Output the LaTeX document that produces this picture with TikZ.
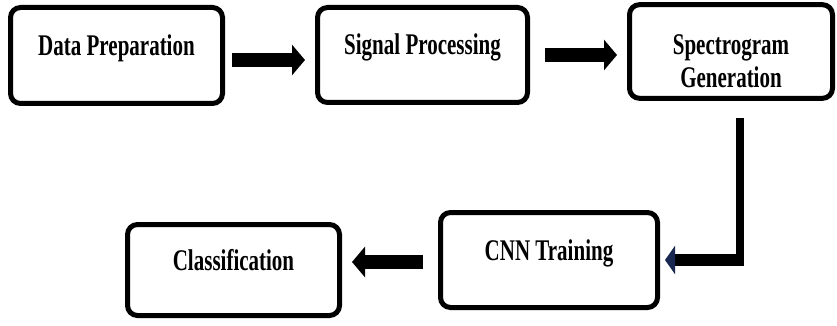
\documentclass[tikz,border=0pt]{standalone}
\usepackage{fontspec}
\newfontfamily\boxfont{Liberation Serif}[FakeStretch=0.7]
\usepackage{tikz}
\usetikzlibrary{positioning, arrows.meta, calc}
\definecolor{tipnavy}{RGB}{25,40,80}
\tikzset{
  stage/.style={draw, line width=5pt, rounded corners=10pt, align=center,
    font=\boxfont\bfseries\fontsize{30}{33}\selectfont,
    text height=22pt, text depth=22pt},
  flow/.style={line width=14pt, -{Triangle[width=30pt, length=13pt]}},
}

\begin{document}
\begin{tikzpicture}[x=1pt, y=-1pt]
    \useasboundingbox (0,0) rectangle (837,326);

    % === PREMIERE LIGNE ===
    \node[stage, minimum width=212pt, minimum height=96pt] (prep) at (116.5,55.5) {Data Preparation};
    \node[stage, minimum width=210pt, minimum height=95pt] (sig) at (422.5,55) {Signal Processing};
    \node[stage, minimum width=203pt, minimum height=92pt, text height=80pt, text depth=7pt] (spec) at (731,51.5) {Spectrogram\\Generation};

    % === DEUXIEME LIGNE ===
    \node[stage, minimum width=217pt, minimum height=95pt] (cnn) at (549,260) {CNN Training};
    \node[stage, minimum width=212pt, minimum height=91pt] (cls) at (233.5,270) {Classification};

    % Flèches du haut
    \path ([yshift=-4.5pt]prep.east) coordinate (out1);
    \draw[flow, shorten <=7pt, shorten >=10pt] (out1) -- (out1 -| sig.west);
    \draw[flow, shorten <=15pt, shorten >=10pt] (sig.east) -- (sig.east -| spec.west);

    % Descente vers CNN
    \path ([xshift=9pt]spec.south) coordinate (drop);
    \coordinate (turn) at (drop |- cnn.east);
    \draw[line width=8pt, shorten <=17pt] (drop) -- ([yshift=-6pt]turn);
    \draw[line width=12pt, -{Triangle[width=28pt, length=10pt, color=tipnavy]}, shorten >=5pt]
        ([xshift=4pt]turn) -- (cnn.east);

    % Flèche du bas
    \path ([yshift=-2pt]cnn.west) coordinate (out2);
    \draw[flow, shorten <=15pt, shorten >=10pt] (out2) -- (out2 -| cls.east);

\end{tikzpicture}
\end{document}
